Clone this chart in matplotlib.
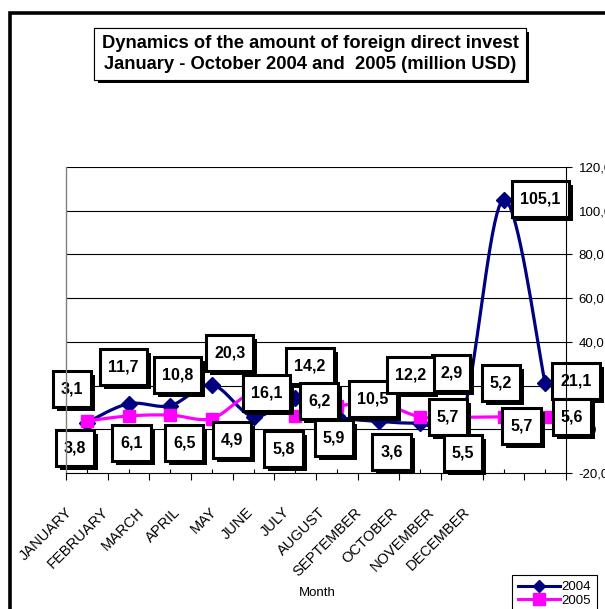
import numpy as np
import matplotlib
matplotlib.use('Agg')
import matplotlib.pyplot as plt
from matplotlib.patches import Rectangle
from matplotlib.lines import Line2D
from matplotlib.transforms import IdentityTransform, ScaledTranslation
import matplotlib.patheffects as pe

plt.rcParams['font.family'] = ['Liberation Sans', 'DejaVu Sans']

#%% data
months = ['JANUARY', 'FEBRUARY', 'MARCH', 'APRIL', 'MAY', 'JUNE', 'JULY',
          'AUGUST', 'SEPTEMBER', 'OCTOBER', 'NOVEMBER', 'DECEMBER']
fdi_2004 = [3.1, 11.7, 10.8, 20.3, 5.8, 14.2, 5.9, 3.6, 2.9, 5.2, 105.1, 21.1]
fdi_2005 = [3.8, 6.1, 6.5, 4.9, 16.1, 6.2, 10.5, 12.2, 5.7, 5.5, 5.7, 5.6]
yticks = [-20, 0, 20, 40, 60, 80, 100, 120]

# where each data label box sits, in pixels (right, down) from its point
off_2004 = [(-15, -34), (-5, -37), (7, -31), (18, -32), (30, 32), (15, -32),
            (-3, 22), (13, 31), (31, -50), (39, -35), (37, -1), (31, -2)]
off_2005 = [(-12, 27), (3, 27), (14, 28), (20, 21), (13, -1), (24, -15),
            (36, -7), (32, -28), (28, 0), (1, 36), (18, 9), (27, 0)]


def smooth(x, y, n=20):
    '''Excel-like smoothed line (Catmull-Rom as cubic Bezier)'''
    x = np.asarray(x, float)
    y = np.asarray(y, float)
    px = np.concatenate([[x[0]], x, [x[-1]]])
    py = np.concatenate([[y[0]], y, [y[-1]]])
    t = np.linspace(0, 1, n)[:, None]
    out = []
    for i in range(len(x) - 1):
        p0 = np.array([px[i], py[i]])
        p1 = np.array([px[i+1], py[i+1]])
        p2 = np.array([px[i+2], py[i+2]])
        p3 = np.array([px[i+3], py[i+3]])
        c1 = p1 + (p2 - p0) / 6
        c2 = p2 - (p3 - p1) / 6
        seg = ((1-t)**3)*p1 + 3*((1-t)**2)*t*c1 + 3*(1-t)*t**2*c2 + t**3*p2
        out.append(seg)
    out = np.vstack(out)
    return out[:, 0], out[:, 1]


W, H = 605, 609
fig = plt.figure(figsize=(W/100, H/100), dpi=100)
ax = fig.add_axes([66/W, 1-473/H, 500/W, 306/H])

# outer chart frame (runs off the picture at right and bottom)
fig.patches.append(Rectangle((10/W, -0.2), 1.3, 1 - 13/H + 0.2, transform=fig.transFigure,
                             fill=False, ec='black', lw=2.6))

x = np.arange(len(months)) + 0.5
navy = '#000080'
pink = '#FF00FF'

sx, sy = smooth(x, fdi_2004)
ax.plot(sx, sy, color=navy, lw=2.3, zorder=2, solid_capstyle='round')
ax.plot(x, fdi_2004, ls='none', marker='D', ms=8, color=navy, zorder=2)
sx, sy = smooth(x, fdi_2005)
ax.plot(sx, sy, color=pink, lw=2.3, zorder=2, solid_capstyle='round')
ax.plot(x, fdi_2005, ls='none', marker='s', ms=9, color=pink, zorder=2)

for v in yticks[1:]:
    ax.axhline(v, color='black', lw=0.8, zorder=1)

ax.set_xlim(0, len(months))
ax.set_ylim(-20, 120)

ax.yaxis.tick_right()
ax.set_yticks(yticks)
ax.set_yticklabels([('%.1f' % v).replace('.', ',') for v in yticks])
ax.tick_params(axis='y', direction='out', length=4, width=0.8, labelsize=9.5, pad=5)

ax.set_xticks(np.arange(len(months) + 1))
ax.set_xticklabels([])
ax.set_xticks(x, minor=True)
ax.set_xticklabels(months, minor=True, rotation=45, ha='right', va='top',
                   rotation_mode='anchor', fontsize=10.5)
ax.tick_params(axis='x', which='major', direction='out', length=5, width=0.8)
ax.tick_params(axis='x', which='minor', direction='in', length=3, width=0.8, pad=23)
# the month names sit a little tighter than the categories
for i, lab in enumerate(ax.get_xticklabels(minor=True)):
    dx = -22 - 5.47 * i
    lab.set_transform(lab.get_transform() + ScaledTranslation(dx/100, 0, fig.dpi_scale_trans))

ax.spines['top'].set_visible(False)
ax.spines['left'].set_color('#808080')
ax.spines['left'].set_linewidth(1)
ax.spines['right'].set_linewidth(0.8)
ax.spines['bottom'].set_linewidth(0.8)

# data labels: white boxes with a black drop shadow
renderer = fig.canvas.get_renderer()


def label_box(xv, yv, val, off):
    px, py = ax.transData.transform((xv, yv))
    cx, cy = px + off[0], py - off[1]
    s = ('%.1f' % val).replace('.', ',')
    t = ax.text(cx, cy, s, transform=IdentityTransform(), ha='center', va='center',
                fontsize=11.5, fontweight='bold', zorder=2.4, clip_on=False)
    w = t.get_window_extent(renderer).width + 16
    h = 36
    ax.add_patch(Rectangle((cx - w/2 + 4, cy - h/2 - 4), w, h, transform=IdentityTransform(),
                           fc='black', ec='none', zorder=2.2, clip_on=False))
    ax.add_patch(Rectangle((cx - w/2, cy - h/2), w, h, transform=IdentityTransform(),
                           fc='white', ec='black', lw=2.2, zorder=2.3, clip_on=False))


for i in range(len(months)):
    label_box(x[i], fdi_2004[i], fdi_2004[i], off_2004[i])
for i in range(len(months)):
    label_box(x[i], fdi_2005[i], fdi_2005[i], off_2005[i])

# title
title = fig.text(310/W, 1-54/H,
                 'Dynamics of the amount of foreign direct invest\nJanuary - October 2004 and  2005 (million USD)',
                 ha='center', va='center', fontsize=13.2, fontweight='bold', linespacing=1.25,
                 bbox=dict(boxstyle='square,pad=0.4', fc='white', ec='black', lw=0.8))
title.get_bbox_patch().set_path_effects([pe.withSimplePatchShadow(offset=(2.5, -2.5),
                                         shadow_rgbFace='black', alpha=1), pe.Normal()])

fig.text(317/W, 1-593/H, 'Month', ha='center', va='center', fontsize=9.5)

h1 = Line2D([], [], color=navy, lw=2.2, marker='D', ms=6)
h2 = Line2D([], [], color=pink, lw=2.2, marker='s', ms=8)
leg = fig.legend([h1, h2], ['2004', '2005'], loc='upper left', bbox_to_anchor=(512/W, 1-575/H),
                 frameon=True, fancybox=False, edgecolor='black', framealpha=1, fontsize=9.5,
                 handlelength=3.2, handletextpad=0.1, borderpad=0.45, labelspacing=0.1,
                 borderaxespad=0)
leg.get_frame().set_linewidth(0.8)

fig.savefig('out.png', dpi=100)
